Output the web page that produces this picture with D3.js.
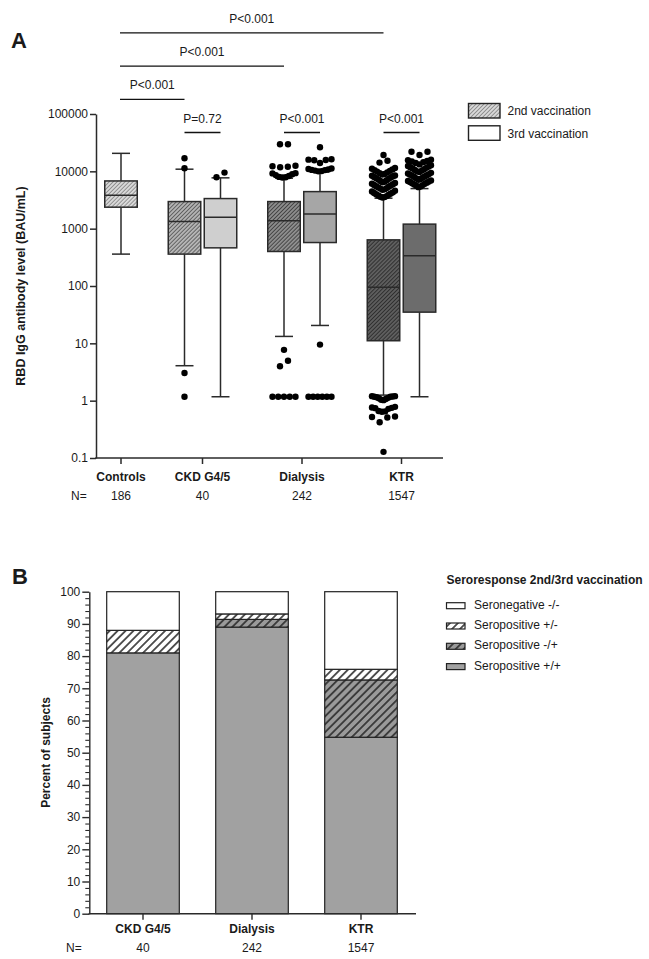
<!DOCTYPE html>
<html><head><meta charset="utf-8">
<script src="https://cdn.jsdelivr.net/npm/d3@7"></script>
<style>
body{margin:0;background:#fff}
svg{display:block}
text{font-family:"Liberation Sans",Arial,sans-serif;fill:#1a1a1a}
</style>
</head><body>
<svg id="c" width="649" height="959"></svg>
<script>
// ================= DATA: Panel A =================
const categoriesA = ["Controls", "CKD G4/5", "Dialysis", "KTR"];
const nA = [186, 40, 242, 1547];
// one entry per box
const boxGroup = [0, 1, 1, 2, 2, 3, 3];
const boxDose = ["2nd", "2nd", "3rd", "2nd", "3rd", "2nd", "3rd"];
const whiskerLow = [360, 4.07, 1.17, 13.2, 20.5, 1.25, 1.17];
const q1 = [2370, 360, 463, 400, 573, 11.1, 35];
const median = [3840, 1330, 1580, 1380, 1810, 95.5, 336];
const q3 = [6800, 2970, 3350, 2970, 4430, 638, 1200];
const whiskerHigh = [20600, 10900, 7700, 7600, 9700, 3400, 5000];
const outControls = [];
const outCKD2 = [1.17, 3.04, 11300, 16900];
const outCKD3 = [7900, 9500];
const outDial2 = [1.17, 1.17, 1.17, 1.17, 1.17, 3.98, 4.97, 7.7,
  7800, 7900, 8000, 8300, 8600, 8900, 9200, 9300,
  11800, 12000, 12300, 12500, 29600, 29600];
const outDial3 = [1.17, 1.17, 1.17, 1.17, 1.17, 1.17, 9.5,
  10000, 10100, 10300, 10500, 10600, 10800, 11000, 11200,
  14000, 15600, 15800, 16000, 16200, 26300];
const outKTR2 = [0.128, 0.42, 0.51, 0.52, 0.53, 0.64, 0.65, 0.66, 0.72, 0.74, 0.75, 0.76, 0.78,
  1.02, 1.04, 1.07, 1.1, 1.12, 1.15, 1.17, 1.17, 1.18, 1.2, 1.2,
  3500, 3550, 3600, 3700, 3800, 3900, 4000, 4100, 4200, 4300, 4450, 4600,
  4750, 4850, 5000, 5100, 5250, 5400, 5500, 5650, 5800, 5950, 6100, 6250,
  6450, 6600, 6800, 7000, 7200, 7400, 7600, 7800, 8000, 8200, 8350, 8450,
  8800, 9000, 9300, 9600, 9900, 10200, 10500, 10800, 11100, 11400,
  14200, 15300, 19300];
const outKTR3 = [5300, 5450, 5600, 5750, 5900, 6050, 6200, 6350, 6500, 6650, 6800, 6950,
  7150, 7350, 7550, 7750, 7950, 8150, 8350, 8550, 8750, 8950, 9150, 9400,
  9700, 10000, 10300, 10600, 10900, 11200, 11500, 11800, 12100, 12400, 12800, 13200,
  14000, 14400, 14800, 15200, 15600, 16000, 19300, 22000, 22000];
const outliers = [outControls, outCKD2, outCKD3, outDial2, outDial3, outKTR2, outKTR3];
const yTicksA = [0.1, 1, 10, 100, 1000, 10000, 100000];
const yTickLabelsA = ["0.1", "1", "10", "100", "1000", "10000", "100000"];
const legendA = ["2nd vaccination", "3rd vaccination"];
// significance brackets
const sigLabels = ["P<0.001", "P<0.001", "P<0.001", "P=0.72", "P<0.001", "P<0.001"];
const sigFrom = [0, 0, 0, 1, 3, 5];
const sigTo = [5, 3, 1, 2, 4, 6];
const sigLevel = [3, 2, 1, 0, 0, 0];

// ================= DATA: Panel B =================
const categoriesB = ["CKD G4/5", "Dialysis", "KTR"];
const nB = [40, 242, 1547];
const seroKeys = ["pp", "np", "pn", "nn"];
const seroLabels = { nn: "Seronegative -/-", pn: "Seropositive +/-", np: "Seropositive -/+", pp: "Seropositive +/+" };
const legendOrderB = ["nn", "pn", "np", "pp"];
const posPos = [81, 89, 54.8];
const negPos = [0, 2.4, 17.8];
const posNeg = [7, 1.7, 3.3];
const negNeg = [12, 6.9, 24.1];
const yTicksB = [0, 10, 20, 30, 40, 50, 60, 70, 80, 90, 100];
const yMinorTicksB = [2,4,6,8,12,14,16,18,22,24,26,28,32,34,36,38,42,44,46,48,52,54,56,58,62,64,66,68,72,74,76,78,82,84,86,88,92,94,96,98];
const legendTitleB = "Seroresponse 2nd/3rd vaccination";

// ================= DRAWING =================
const svg = d3.select("#c");
const defs = svg.append("defs");
const INK = "#2a2a2a";
function hatch(id, bg, fg, s, w) {
  const p = defs.append("pattern").attr("id", id).attr("patternUnits", "userSpaceOnUse")
    .attr("width", s).attr("height", s).attr("patternTransform", "rotate(45)");
  p.append("rect").attr("width", s).attr("height", s).attr("fill", bg);
  p.append("line").attr("x1", s / 2).attr("x2", s / 2).attr("y1", -1).attr("y2", s + 1)
    .attr("stroke", fg).attr("stroke-width", w);
}
hatch("hCtrl", "#dadada", "#8a8a8a", 2.8, 0.9);
hatch("hCKD", "#b4b4b4", "#5c5c5c", 2.8, 0.9);
hatch("hDial", "#8e8e8e", "#404040", 2.8, 0.9);
hatch("hKTR", "#5e5e5e", "#2c2c2c", 2.8, 0.9);
hatch("bPN", "#ffffff", "#111111", 5.6, 1.4);
hatch("bNP", "#9a9a9a", "#1c1c1c", 5.6, 1.4);
const boxFill = ["url(#hCtrl)", "url(#hCKD)", "#cfcfcf", "url(#hDial)", "#a6a6a6", "url(#hKTR)", "#6c6c6c"];

// ---------- Panel A ----------
const yA = d3.scaleLog().domain([0.1, 100000]).range([458, 114]);
const colSpacing = 36, groupGap = 27.5;
const boxSlot = boxGroup.map((g, i) => i + g * groupGap / colSpacing);
const xA = d3.scaleLinear().domain([0, d3.max(boxSlot)]).range([121, 121 + d3.max(boxSlot) * colSpacing]);
const boxX = boxSlot.map(s => xA(s));
const groupX = categoriesA.map((c, g) => d3.mean(boxX.filter((x, i) => boxGroup[i] === g)));
const bw = 32.5, capW = 18;

svg.append("text").attr("x", 11).attr("y", 48).attr("font-size", 22).attr("font-weight", "bold").text("A");

// y axis
const axA = svg.append("g").attr("transform", "translate(96,0)")
  .call(d3.axisLeft(yA).tickValues(yTicksA).tickFormat((d, i) => yTickLabelsA[i]).tickSize(6).tickSizeOuter(0).tickPadding(2));
axA.selectAll("path,line").attr("stroke", INK).attr("stroke-width", 1.5);
axA.selectAll("text").attr("font-size", 12).attr("fill", "#1a1a1a").style("font-family", '"Liberation Sans",Arial,sans-serif');
// x axis
svg.append("line").attr("x1", 95.25).attr("x2", 443).attr("y1", yA(0.1)).attr("y2", yA(0.1)).attr("stroke", INK).attr("stroke-width", 1.5);
svg.selectAll(".xtA").data(groupX).join("line").attr("x1", d => d).attr("x2", d => d)
  .attr("y1", yA(0.1)).attr("y2", yA(0.1) + 6).attr("stroke", INK).attr("stroke-width", 1.5);
svg.selectAll(".xlA").data(categoriesA).join("text").attr("x", (d, i) => groupX[i]).attr("y", 481)
  .attr("text-anchor", "middle").attr("font-size", 12).attr("font-weight", "bold").text(d => d);
svg.append("text").attr("x", 71).attr("y", 500).attr("font-size", 12).text("N=");
svg.selectAll(".nA").data(nA).join("text").attr("x", (d, i) => groupX[i]).attr("y", 500)
  .attr("text-anchor", "middle").attr("font-size", 12).text(d => d);
// y title
svg.append("text").attr("transform", "translate(21,286) rotate(-90)").attr("text-anchor", "middle")
  .attr("dominant-baseline", "central").attr("font-size", 12.5).attr("font-weight", "bold")
  .text("RBD IgG antibody level (BAU/mL)");

// boxes
const gBox = svg.append("g");
boxX.forEach((cx, i) => {
  const g = gBox.append("g");
  const st = l => l.attr("stroke", INK).attr("stroke-width", 1.5);
  st(g.append("line").attr("x1", cx).attr("x2", cx).attr("y1", yA(q3[i])).attr("y2", yA(whiskerHigh[i])));
  st(g.append("line").attr("x1", cx).attr("x2", cx).attr("y1", yA(q1[i])).attr("y2", yA(whiskerLow[i])));
  st(g.append("line").attr("x1", cx - capW / 2).attr("x2", cx + capW / 2).attr("y1", yA(whiskerHigh[i])).attr("y2", yA(whiskerHigh[i])));
  st(g.append("line").attr("x1", cx - capW / 2).attr("x2", cx + capW / 2).attr("y1", yA(whiskerLow[i])).attr("y2", yA(whiskerLow[i])));
  st(g.append("rect").attr("x", cx - bw / 2).attr("width", bw).attr("y", yA(q3[i])).attr("height", yA(q1[i]) - yA(q3[i])).attr("fill", boxFill[i]));
  st(g.append("line").attr("x1", cx - bw / 2).attr("x2", cx + bw / 2).attr("y1", yA(median[i])).attr("y2", yA(median[i])));
});

// outlier layout (rows of nearby values spread symmetrically)
const rowH = 7, maxHalf = 11.5, dotSp = 8, dotR = 3.2;
function layoutRows(vals, cx) {
  const pts = [];
  let row = [], y0 = null;
  const flush = () => {
    if (!row.length) return;
    const n = row.length;
    const s = n > 1 ? Math.min(dotSp, 2 * maxHalf / (n - 1)) : 0;
    const offs = d3.range(n).map(k => (k - (n - 1) / 2) * s)
      .sort((a, b) => Math.abs(a) - Math.abs(b) || a - b);
    const sorted = row.slice().sort((a, b) => a - b);
    sorted.forEach((v, k) => pts.push({ x: cx + offs[k], y: yA(v) }));
    row = [];
  };
  vals.forEach(v => {
    const y = yA(v);
    if (y0 === null || Math.abs(y - y0) > rowH) { flush(); y0 = y; }
    row.push(v);
  });
  flush();
  return pts;
}
const gDots = svg.append("g");
outliers.forEach((arr, i) => {
  const up = arr.filter(v => v > q3[i]).sort((a, b) => a - b);
  const lo = arr.filter(v => v < q1[i]).sort((a, b) => b - a);
  const pts = layoutRows(up, boxX[i]).concat(layoutRows(lo, boxX[i]));
  gDots.selectAll(null).data(pts).join("circle").attr("cx", d => d.x).attr("cy", d => d.y)
    .attr("r", dotR).attr("fill", "#000");
});

// significance brackets
const levelY = l => 132.5 - l * 33.2;
sigLabels.forEach((lab, k) => {
  const x1 = boxX[sigFrom[k]], x2 = sigLevel[k] > 0 ? boxX[sigTo[k]] : boxX[sigTo[k]];
  const xa = sigLevel[k] > 0 ? x1 - 1 : x1;
  const y = levelY(sigLevel[k]);
  svg.append("line").attr("x1", xa).attr("x2", x2).attr("y1", y).attr("y2", y).attr("stroke", "#111").attr("stroke-width", 1.3);
  svg.append("text").attr("x", (xa + x2) / 2).attr("y", y - 10).attr("text-anchor", "middle").attr("font-size", 12).text(lab);
});

// legend A
const legAFill = ["url(#hCtrl)", "#ffffff"];
legendA.forEach((t, k) => {
  const y = 103.5 + k * 22.3;
  svg.append("rect").attr("x", 468.5).attr("y", y).attr("width", 31.5).attr("height", 14.5)
    .attr("fill", legAFill[k]).attr("stroke", "#222").attr("stroke-width", 1.4);
  svg.append("text").attr("x", 507.5).attr("y", y + 11.8).attr("font-size", 12).text(t);
});

// ---------- Panel B ----------
svg.append("text").attr("x", 12).attr("y", 584).attr("font-size", 22).attr("font-weight", "bold").text("B");
const yB = d3.scaleLinear().domain([0, 100]).range([913.7, 591.7]);
const xB = d3.scalePoint().domain(categoriesB).range([143, 361]);
const barW = xB.step() * 0.666;
const tableB = categoriesB.map((c, i) => ({ cat: c, pp: posPos[i], np: negPos[i], pn: posNeg[i], nn: negNeg[i] }));
const stackB = d3.stack().keys(seroKeys)(tableB);
const fillB = { pp: "#a1a1a1", np: "url(#bNP)", pn: "url(#bPN)", nn: "#ffffff" };
stackB.forEach(layer => {
  svg.append("g").selectAll("rect").data(layer).join("rect")
    .attr("x", d => xB(d.data.cat) - barW / 2).attr("width", barW)
    .attr("y", d => yB(d[1])).attr("height", d => yB(d[0]) - yB(d[1]))
    .attr("fill", fillB[layer.key]).attr("stroke", "#222").attr("stroke-width", 1.2);
});
const axB = svg.append("g").attr("transform", "translate(89.3,0)")
  .call(d3.axisLeft(yB).tickValues(yTicksB).tickSize(7).tickSizeOuter(0).tickPadding(2));
axB.selectAll("path,line").attr("stroke", INK).attr("stroke-width", 1.4);
axB.selectAll("text").attr("font-size", 12).attr("fill", "#1a1a1a").style("font-family", '"Liberation Sans",Arial,sans-serif');
const axBm = svg.append("g").attr("transform", "translate(89.3,0)")
  .call(d3.axisLeft(yB).tickValues(yMinorTicksB).tickSize(4).tickFormat("").tickSizeOuter(0));
axBm.select("path").remove();
axBm.selectAll("line").attr("stroke", INK).attr("stroke-width", 1.1);
svg.append("line").attr("x1", 88.6).attr("x2", 416).attr("y1", yB(0)).attr("y2", yB(0)).attr("stroke", INK).attr("stroke-width", 1.4);
svg.selectAll(".xtB").data(categoriesB).join("line").attr("x1", d => xB(d)).attr("x2", d => xB(d))
  .attr("y1", yB(0)).attr("y2", yB(0) + 6).attr("stroke", INK).attr("stroke-width", 1.4);
svg.selectAll(".xlB").data(categoriesB).join("text").attr("x", d => xB(d)).attr("y", 933)
  .attr("text-anchor", "middle").attr("font-size", 12).attr("font-weight", "bold").text(d => d);
svg.append("text").attr("x", 66).attr("y", 952).attr("font-size", 12).text("N=");
svg.selectAll(".nB").data(nB).join("text").attr("x", (d, i) => xB(categoriesB[i])).attr("y", 952)
  .attr("text-anchor", "middle").attr("font-size", 12).text(d => d);
svg.append("text").attr("transform", "translate(46,752.5) rotate(-90)").attr("text-anchor", "middle")
  .attr("dominant-baseline", "central").attr("font-size", 12).attr("font-weight", "bold").text("Percent of subjects");

// legend B
svg.append("text").attr("x", 446.5).attr("y", 584).attr("font-size", 12).attr("font-weight", "bold").text(legendTitleB);
legendOrderB.forEach((k, j) => {
  const yb = 608.7 + j * 20.3;
  svg.append("rect").attr("x", 446.5).attr("y", yb - 6).attr("width", 18.5).attr("height", 6)
    .attr("fill", fillB[k]).attr("stroke", "#222").attr("stroke-width", 1.2);
  svg.append("text").attr("x", 474).attr("y", yb).attr("font-size", 12).text(seroLabels[k]);
});
</script>
</body></html>
